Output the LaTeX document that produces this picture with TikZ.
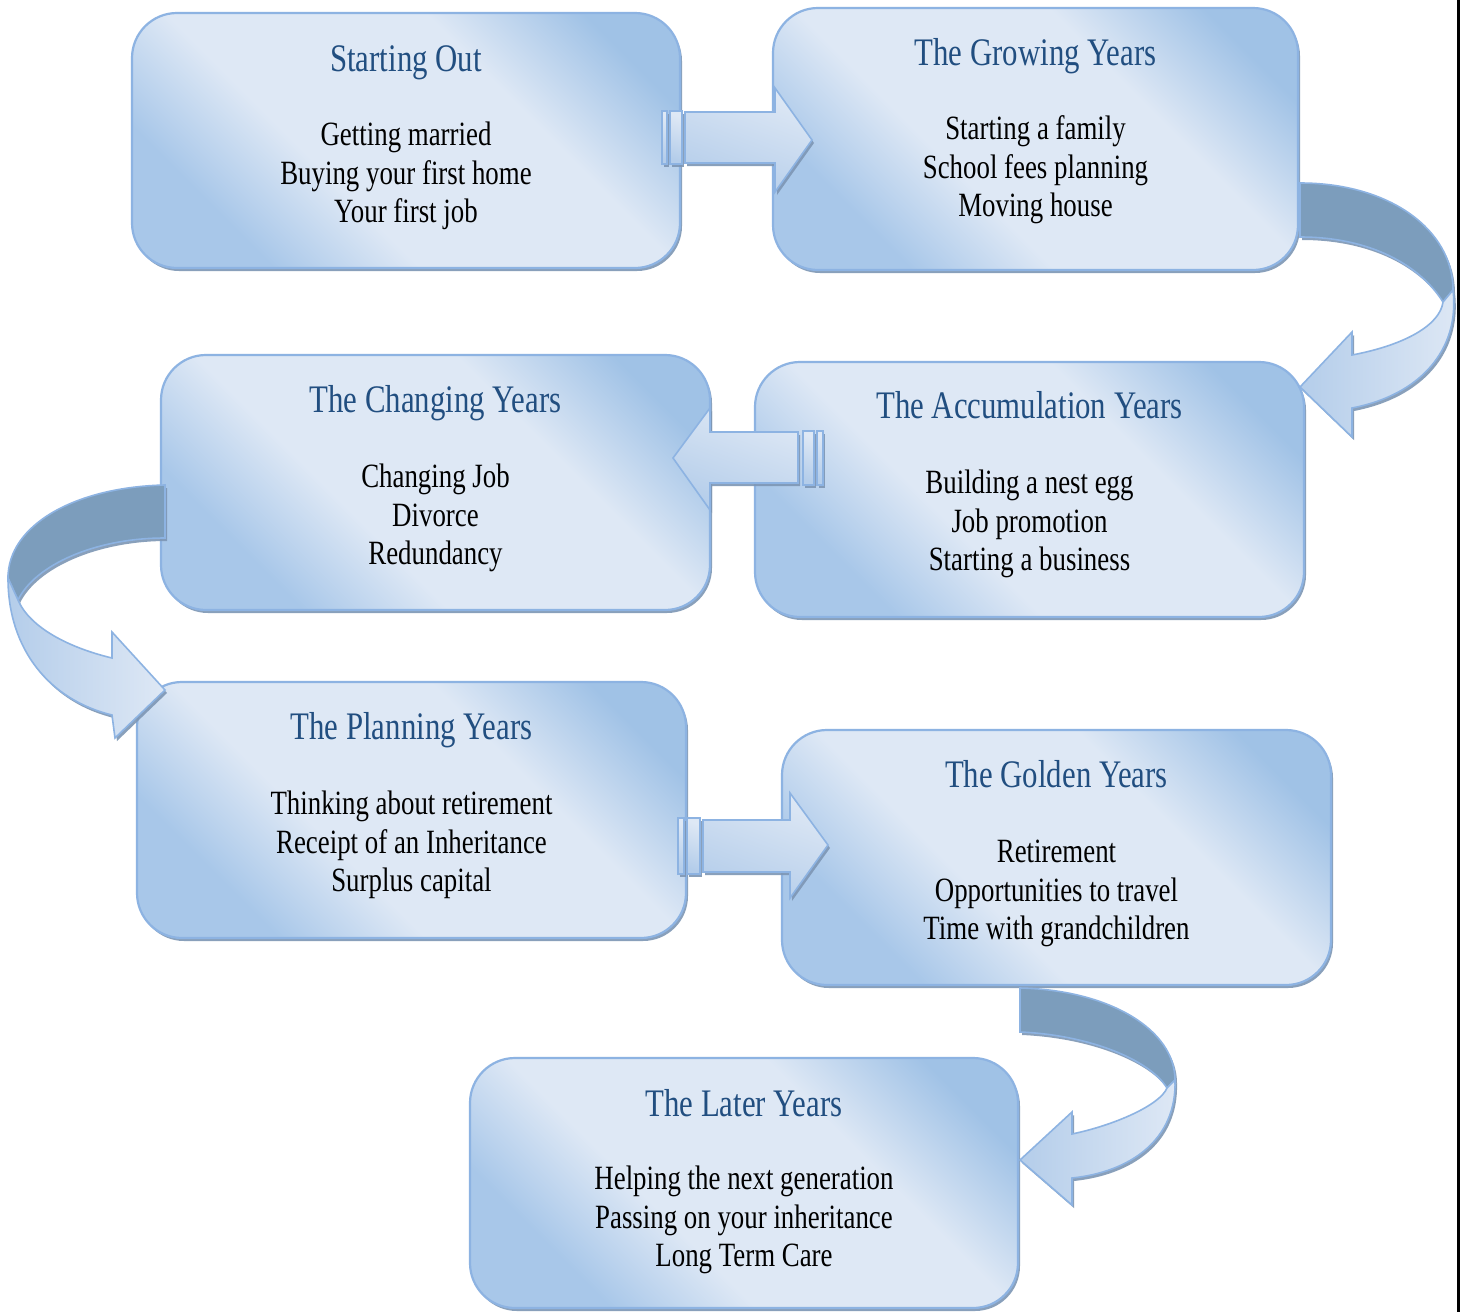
\documentclass[tikz,border=0pt]{standalone}
\usepackage{fontspec}
\setmainfont{Liberation Serif}[FakeStretch=0.79]
\usetikzlibrary{calc,shadows}
\definecolor{titleblue}{RGB}{33,78,128}
\definecolor{boxedge}{RGB}{141,179,226}
\definecolor{boxdarkA}{RGB}{160,194,230}
\definecolor{boxdarkB}{RGB}{168,199,233}
\definecolor{boxlight}{RGB}{222,232,245}
\definecolor{arrowmid}{RGB}{180,205,234}
\definecolor{arrowdark}{RGB}{124,157,188}
\definecolor{shadowcol}{RGB}{125,150,180}
\pgfdeclareverticalshading{boxshade}{100bp}{color(0bp)=(boxdarkB); color(27bp)=(boxdarkB); color(40bp)=(boxlight); color(63bp)=(boxlight); color(77bp)=(boxdarkA); color(100bp)=(boxdarkA)}
\begin{document}
\begin{tikzpicture}[x=1pt,y=-1pt,
  box/.style={draw=boxedge, line width=2.2pt, rounded corners=45pt, shading=boxshade, shading angle=-45,
    drop shadow={shadow xshift=2pt, shadow yshift=-3pt, fill=shadowcol, opacity=0.9}},
  ttl/.style={anchor=base, inner sep=0pt, text=titleblue, font=\fontsize{39}{44}\selectfont},
  bdy/.style={anchor=base, inner sep=0pt, align=center, text=black, font=\fontsize{34}{38.5}\selectfont},
  sarrow/.style={draw=boxedge, line width=1.6pt, top color=boxlight, bottom color=arrowmid, shading angle=-20,
    drop shadow={shadow xshift=2pt, shadow yshift=-3pt, fill=shadowcol, opacity=0.9}},
  cfront/.style={draw=boxedge, line width=1.6pt, left color=arrowmid, right color=boxlight,
    drop shadow={shadow xshift=2pt, shadow yshift=-3pt, fill=shadowcol, opacity=0.9}},
  cback/.style={draw=boxedge, line width=1.6pt, fill=arrowdark,
    drop shadow={shadow xshift=2pt, shadow yshift=-3pt, fill=shadowcol, opacity=0.9}}
]
\useasboundingbox (0,0) rectangle (1465,1312);
\fill[white] (0,0) rectangle (1465,1312);

% boxes
\node[box, minimum width=548pt, minimum height=255pt] (b1) at (406,140.5) {};
\node[box, minimum width=525pt, minimum height=262pt] (b2) at (1035.5,139) {};
\node[box, minimum width=549pt, minimum height=255pt] (b3) at (435.5,482.5) {};
\node[box, minimum width=549pt, minimum height=255pt] (b4) at (1029.5,489.5) {};
\node[box, minimum width=549pt, minimum height=256pt] (b5) at (411.5,810) {};
\node[box, minimum width=549pt, minimum height=255pt] (b6) at (1056.5,857.5) {};
\node[box, minimum width=548pt, minimum height=250pt] (b7) at (744,1183) {};

% texts (body anchored at the baseline of its last line)
\node[ttl] (t1) at ($(b1.north)+(0,60)$) {Starting Out};
\node[bdy] (d1) at ($(b1.north)+(0,211)$) {Getting married\\Buying your first home\\Your first job};
\node[ttl] (t2) at ($(b2.north)+(0,59)$) {The Growing Years};
\node[bdy] (d2) at ($(b2.north)+(0,210)$) {Starting a family\\School fees planning\\Moving house};
\node[ttl] (t3) at ($(b3.north)+(0,59)$) {The Changing Years};
\node[bdy] (d3) at ($(b3.north)+(0,211)$) {Changing Job\\Divorce\\Redundancy};
\node[ttl] (t4) at ($(b4.north)+(0,58)$) {The Accumulation Years};
\node[bdy] (d4) at ($(b4.north)+(0,210)$) {Building a nest egg\\Job promotion\\Starting a business};
\node[ttl] (t5) at ($(b5.north)+(0,59)$) {The Planning Years};
\node[bdy] (d5) at ($(b5.north)+(0,211)$) {Thinking about retirement\\Receipt of an Inheritance\\Surplus capital};
\node[ttl] (t6) at ($(b6.north)+(0,59)$) {The Golden Years};
\node[bdy] (d6) at ($(b6.north)+(0,211)$) {Retirement\\Opportunities to travel\\Time with grandchildren};
\node[ttl] (t7) at ($(b7.north)+(0,60)$) {The Later Years};
\node[bdy] (d7) at ($(b7.north)+(0,210)$) {Helping the next generation\\Passing on your inheritance\\Long Term Care};

% straight striped arrows
\path[sarrow] (685,112) -- (775,112) -- (775,88) -- (812,140) -- (775,192) -- (775,163) -- (685,163) -- cycle;
\path[sarrow] (670,111) rectangle (682,164);
\path[sarrow] (662,111) rectangle (667,164);

\path[sarrow] (798,432) -- (710,432) -- (710,408) -- (673,458) -- (710,510) -- (710,483) -- (798,483) -- cycle;
\path[sarrow] (803,431) rectangle (814,485);
\path[sarrow] (817,431) rectangle (823,485);

\path[sarrow] (703,820) -- (790,820) -- (790,793) -- (828,845) -- (790,898) -- (790,872) -- (703,872) -- cycle;
\path[sarrow] (687,818) rectangle (700,874);
\path[sarrow] (678,818) rectangle (684,874);

% curved arrow right (b2 -> b4)
\path[cback] (1300,183) .. controls (1390,183) and (1453,230) .. (1453,290) -- (1443,302)
  .. controls (1420,265) and (1370,237) .. (1300,237) -- cycle;
\path[cfront] (1453,290) .. controls (1460,350) and (1420,395) .. (1352,408) -- (1352,437) -- (1300,387)
  -- (1352,332) -- (1352,355) .. controls (1405,345) and (1440,325) .. (1443,302) -- cycle;

% curved arrow left (b3 -> b5)
\path[cback] (165,485) .. controls (75,487) and (8,525) .. (8,578) -- (18,600)
  .. controls (35,565) and (95,538) .. (165,538) -- cycle;
\path[cfront] (8,578) .. controls (8,650) and (50,700) .. (112,715) -- (115,738) -- (165,690)
  -- (112,632) -- (112,658) .. controls (70,648) and (30,628) .. (18,600) -- cycle;

% curved arrow (b6 -> b7)
\path[cback] (1020,988) .. controls (1110,990) and (1175,1030) .. (1175,1080) -- (1167,1088)
  .. controls (1150,1060) and (1090,1035) .. (1020,1032) -- cycle;
\path[cfront] (1175,1080) .. controls (1177,1140) and (1130,1172) .. (1072,1178) -- (1072,1205) -- (1020,1160)
  -- (1072,1112) -- (1072,1134) .. controls (1115,1125) and (1160,1105) .. (1167,1088) -- cycle;

% page edge line
\draw[line width=3pt, black] (1458.5,0) -- (1458.5,1312);
\end{tikzpicture}
\end{document}
